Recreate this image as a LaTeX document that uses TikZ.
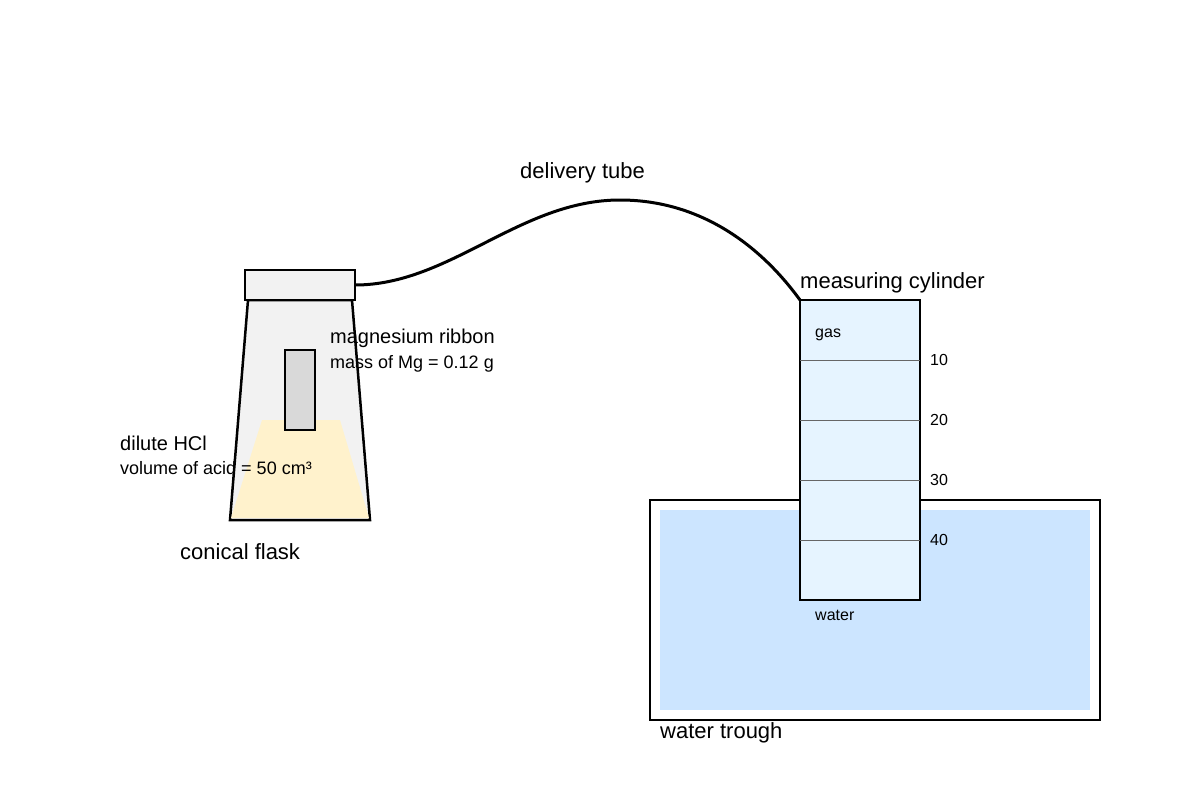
\documentclass[tikz,border=0pt]{standalone}
\usepackage{fontspec}
\setmainfont{Liberation Sans}
\definecolor{acid}{RGB}{255,242,204}
\definecolor{ribbon}{RGB}{217,217,217}
\definecolor{flask}{RGB}{242,242,242}
\definecolor{water}{RGB}{204,229,255}
\definecolor{cyl}{RGB}{230,244,255}
\begin{document}
\begin{tikzpicture}[x=1pt,y=-1pt,
  big/.style={anchor=west,font=\fontsize{22}{26}\selectfont,inner sep=0},
  lab/.style={anchor=west,font=\fontsize{20}{24}\selectfont,inner sep=0},
  mid/.style={anchor=west,font=\fontsize{18}{21}\selectfont,inner sep=0},
  small/.style={anchor=west,font=\fontsize{16}{19}\selectfont,inner sep=0}]
\useasboundingbox (0,0) rectangle (1200,800);
% flask
\draw[fill=flask,line width=2.5pt] (248,300) -- (352,300) -- (370,520) -- (230,520) -- cycle;
\fill[acid] (262,420) -- (340,420) -- (369,518) -- (231,518) -- cycle;
\draw[line width=1.5pt,fill=ribbon] (285,350) rectangle (315,430);
\draw[line width=2pt,fill=flask] (245,270) rectangle (355,300);
\coordinate (stop) at (355,285);
\node[lab] at (330,338) {magnesium ribbon};
\node[mid] at (330,364) {mass of Mg = 0.12 g};
\node[lab] at (120,443) {dilute HCl};
\node[mid] at (120,468) {volume of acid = 50 cm³};
\node[big] at (180,552) {conical flask};
% trough
\draw[line width=2.5pt,fill=white] (650,500) rectangle (1100,720);
\fill[water] (660,510) rectangle (1090,710);
% cylinder
\draw[line width=2.5pt,fill=cyl] (800,300) rectangle (920,600);
\coordinate (cylc) at (800,300);
\foreach \y/\t in {360/10,420/20,480/30,540/40}{
  \draw[black!60,line width=1pt] (800,\y) -- (920,\y);
  \node[small] at (930,\y) {\t};
}
\node[small] at (815,335) {gas};
\node[small] at (815,615) {water};
\node[big] at (800,283) {measuring cylinder};
\node[big] at (660,733) {water trough};
% tube
\draw[line width=3pt] (stop) .. controls (450,285) and (520,200) .. (620,200) .. controls (700,200) and (760,245) .. (cylc);
\node[big] at (520,173) {delivery tube};
\end{tikzpicture}
\end{document}
